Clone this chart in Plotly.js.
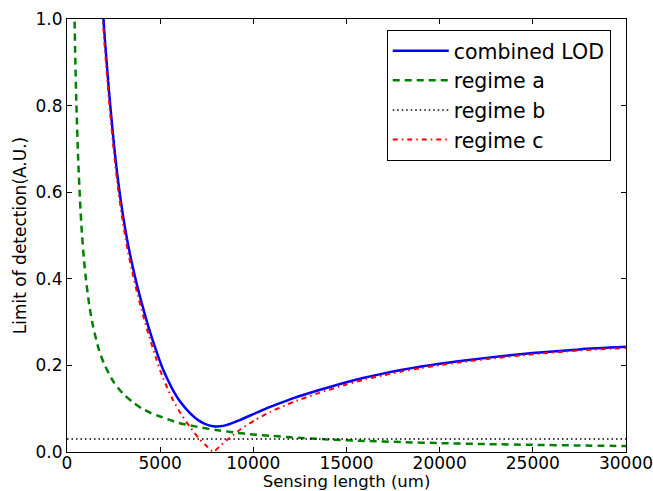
<!DOCTYPE html>
<html>
<head>
<meta charset="utf-8">
<script src="https://cdn.plot.ly/plotly-3.0.1.min.js"></script>
<style>html,body{margin:0;padding:0;background:#fff;}#chart{width:653px;height:491px;}</style>
</head>
<body>
<div id="chart"></div>
<script>
// Sensing length (um) sample positions and values
const xRegimeA = [350, 400, 450, 500, 600, 700, 800, 900, 1000, 1200, 1400, 1700, 2000, 2500, 3000, 3500, 4000, 4500, 5000, 6000, 7000, 8000, 9000, 10000, 11000, 12000, 14000, 16000, 18000, 20000, 22500, 25000, 27500, 30000];
const regimeA = [1.16, 1.01, 0.90, 0.81, 0.675, 0.58, 0.505, 0.45, 0.405, 0.338, 0.29, 0.238, 0.203, 0.162, 0.135, 0.116, 0.101, 0.090, 0.082, 0.067, 0.058, 0.051, 0.045, 0.0405, 0.037, 0.034, 0.029, 0.0255, 0.0228, 0.0205, 0.0183, 0.0165, 0.015, 0.0138];

const xRegimeB = [0, 30000];
const regimeB = [0.030, 0.030];

const xRegimeC = [1800, 2000, 2250, 2500, 2750, 3000, 3250, 3500, 3750, 4000, 4400, 4800, 5100, 5400, 5700, 6100, 6600, 7100, 7500, 7850, 8200, 8550, 9300, 10100, 10900, 11800, 12200, 13500, 15000, 16000, 17000, 18000, 19000, 20000, 21000, 22500, 25000, 27500, 30000];
const regimeC = [1.08, 0.95, 0.815, 0.70, 0.605, 0.53, 0.468, 0.416, 0.370, 0.329, 0.268, 0.214, 0.177, 0.146, 0.119, 0.089, 0.058, 0.030, 0.0135, 0.0, 0.0135, 0.0265, 0.052, 0.074, 0.0925, 0.1095, 0.1165, 0.136, 0.156, 0.1675, 0.1775, 0.1862, 0.1938, 0.2005, 0.2065, 0.2145, 0.2258, 0.2345, 0.2405];

const xCombined = [1800, 2000, 2250, 2500, 2750, 3000, 3250, 3500, 3750, 4000, 4400, 4800, 5100, 5400, 5700, 6100, 6600, 7100, 7500, 7850, 8200, 8550, 9300, 10100, 10900, 11800, 12200, 13500, 15000, 16000, 17000, 18000, 19000, 20000, 21000, 22500, 25000, 27500, 30000];
const combinedLOD = [1.1036, 0.9719, 0.8354, 0.7191, 0.6236, 0.5477, 0.4853, 0.4329, 0.3866, 0.3455, 0.2849, 0.2322, 0.1965, 0.1673, 0.1420, 0.1148, 0.0900, 0.0719, 0.0632, 0.0596, 0.0594, 0.0621, 0.0743, 0.0894, 0.1041, 0.1187, 0.1249, 0.1425, 0.1611, 0.1721, 0.1816, 0.1900, 0.1973, 0.2038, 0.2096, 0.2174, 0.2284, 0.2369, 0.2428];

const xTicks = [0, 5000, 10000, 15000, 20000, 25000, 30000];
const yTicks = [0.0, 0.2, 0.4, 0.6, 0.8, 1.0];
const seriesNames = ['combined LOD', 'regime a', 'regime b', 'regime c'];

const FONT = 'DejaVu Sans, sans-serif';
const AXFONT = 17;

const traces = [
  {x: xCombined, y: combinedLOD, name: seriesNames[0], mode: 'lines', line: {color: '#0000ff', width: 2.5, shape: 'spline', smoothing: 0.7}},
  {x: xRegimeA, y: regimeA, name: seriesNames[1], mode: 'lines', line: {color: '#008000', width: 2.5, dash: '7px,5px', shape: 'spline', smoothing: 0.7}},
  {x: xRegimeB, y: regimeB, name: seriesNames[2], mode: 'lines', line: {color: '#000000', width: 1.5, dash: '1.5px,3px'}},
  {x: xRegimeC, y: regimeC, name: seriesNames[3], mode: 'lines', line: {color: '#ff0000', width: 2, dash: '5px,4px,1.5px,4px', shape: 'spline', smoothing: 0.5}}
];

const axisCommon = {
  showline: true, linecolor: '#000', linewidth: 1, mirror: 'allticks',
  ticks: 'inside', ticklen: 5, tickwidth: 1, tickcolor: '#000',
  showgrid: false, zeroline: false,
  ticklabeloverflow: 'allow',
  tickfont: {family: FONT, size: AXFONT, color: '#000'}
};

const layout = {
  width: 653, height: 491,
  margin: {l: 67, r: 27, t: 19, b: 39},
  paper_bgcolor: '#fff', plot_bgcolor: '#fff',
  font: {family: FONT, color: '#000'},
  showlegend: true,
  legend: {
    x: 0.572, y: 0.975, xanchor: 'left', yanchor: 'top',
    bgcolor: '#fff', bordercolor: '#000', borderwidth: 1,
    font: {family: FONT, size: 20.5, color: '#000'},
    itemwidth: 56
  },
  xaxis: Object.assign({}, axisCommon, {
    range: [0, 30000], tickmode: 'array', tickvals: xTicks, ticktext: xTicks.map(String),
    automargin: false, ticklabelstandoff: -4,
    title: {text: 'Sensing length (um)', font: {family: FONT, size: 16.5, color: '#000'}, standoff: 4}
  }),
  yaxis: Object.assign({}, axisCommon, {
    range: [0, 1], tickmode: 'array', tickvals: yTicks, ticktext: yTicks.map(v => v.toFixed(1)),
    automargin: false,
    title: {text: 'Limit of detection(A.U.)', font: {family: FONT, size: AXFONT, color: '#000'}, standoff: 4}
  })
};

Plotly.newPlot('chart', traces, layout, {displayModeBar: false, staticPlot: true});
</script>
</body>
</html>
